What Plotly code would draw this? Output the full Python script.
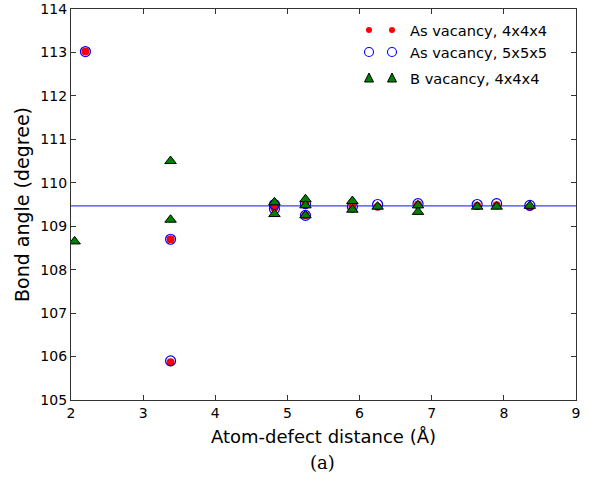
import plotly.graph_objects as go

# As vacancy, 4x4x4
as4_x = [2.20, 3.38, 3.38, 4.82, 4.82, 5.25, 5.25, 5.90, 5.90, 6.25, 6.81, 7.63, 7.90, 8.36]
as4_y = [113.02, 108.70, 105.87, 109.42, 109.50, 109.25, 109.50, 109.40, 109.50, 109.45, 109.50, 109.47, 109.48, 109.45]
# As vacancy, 5x5x5
as5_x = [2.20, 3.38, 3.38, 4.82, 4.82, 5.25, 5.25, 5.90, 6.25, 6.81, 7.63, 7.90, 8.36]
as5_y = [113.02, 108.70, 105.90, 109.50, 109.40, 109.52, 109.25, 109.45, 109.50, 109.52, 109.50, 109.52, 109.48]
# B vacancy, 4x4x4
b4_x = [2.05, 3.38, 3.38, 4.82, 4.82, 5.25, 5.25, 5.25, 5.90, 5.90, 6.25, 6.81, 6.81, 7.63, 7.90, 8.36]
b4_y = [108.65, 110.50, 109.15, 109.55, 109.28, 109.62, 109.48, 109.25, 109.58, 109.38, 109.45, 109.48, 109.33, 109.45, 109.45, 109.47]

ideal_angle = 109.47
x_range = [2, 9]
y_range = [105, 114]
x_ticks = [2, 3, 4, 5, 6, 7, 8, 9]
y_ticks = [105, 106, 107, 108, 109, 110, 111, 112, 113, 114]
legend_labels = ["As vacancy, 4x4x4", "As vacancy, 5x5x5", "B vacancy, 4x4x4"]

W, H = 595, 488
ML, MR, MT, MB = 71, 19, 9, 88
PW, PH = W - ML - MR, H - MT - MB

fig = go.Figure()
fig.add_trace(go.Scatter(x=x_range, y=[ideal_angle, ideal_angle], mode="lines",
                         line=dict(color="#3f3fff", width=1.2), showlegend=False, hoverinfo="skip"))
fig.add_trace(go.Scatter(x=as4_x, y=as4_y, mode="markers", name=legend_labels[0],
                         marker=dict(symbol="circle", size=8, color="red", line=dict(width=0))))
fig.add_trace(go.Scatter(x=as5_x, y=as5_y, mode="markers", name=legend_labels[1],
                         marker=dict(symbol="circle-open", size=10, color="blue", line=dict(width=1.2))))
fig.add_trace(go.Scatter(x=b4_x, y=b4_y, mode="markers", name=legend_labels[2],
                         marker=dict(symbol="triangle-up", size=10, color="green", line=dict(width=1, color="black"))))

axis_common = dict(showgrid=False, zeroline=False, ticks="inside", ticklen=5, tickwidth=1,
                   tickcolor="#333", showline=True, linecolor="#333", linewidth=1.2, mirror="ticks",
                   automargin=False,
                   tickfont=dict(family="DejaVu Sans", size=14, color="black"))

fig.update_layout(
    width=W, height=H,
    margin=dict(l=ML, r=MR, t=MT, b=MB),
    paper_bgcolor="white", plot_bgcolor="white",
    showlegend=False,
    xaxis=dict(range=x_range, tickvals=x_ticks, ticktext=[str(t) for t in x_ticks],
               title=dict(text="Atom-defect distance (Å)", font=dict(family="DejaVu Sans", size=18, color="black"), standoff=10),
               **axis_common),
    yaxis=dict(range=y_range, tickvals=y_ticks, ticktext=[str(t) for t in y_ticks],
               title=dict(text="Bond angle (degree)", font=dict(family="DejaVu Sans", size=19, color="black"), standoff=5),
               **axis_common),
)

def fx(p):
    return (p - ML) / PW
def fy(p):
    return (H - MB - p) / PH

rows = [30, 52, 78]
mx = [369, 392]
shapes = []
for cx in mx:
    r = 3
    shapes.append(dict(type="circle", xref="paper", yref="paper",
                       x0=fx(cx - r), x1=fx(cx + r), y0=fy(rows[0] + r), y1=fy(rows[0] - r),
                       fillcolor="red", line=dict(width=0)))
    r = 4.5
    shapes.append(dict(type="circle", xref="paper", yref="paper",
                       x0=fx(cx - r), x1=fx(cx + r), y0=fy(rows[1] + r), y1=fy(rows[1] - r),
                       fillcolor="rgba(0,0,0,0)", line=dict(width=1.1, color="blue")))
    cy = rows[2]
    path = f"M {fx(cx-4.5)} {fy(cy+4)} L {fx(cx+4.5)} {fy(cy+4)} L {fx(cx)} {fy(cy-5)} Z"
    shapes.append(dict(type="path", xref="paper", yref="paper", path=path,
                       fillcolor="green", line=dict(width=1, color="black")))
fig.update_layout(shapes=shapes)

annotations = []
for lab, ry in zip(legend_labels, rows):
    annotations.append(dict(text=lab, xref="paper", yref="paper",
                            x=fx(408), y=fy(ry),
                            xanchor="left", yanchor="middle", showarrow=False,
                            font=dict(family="DejaVu Sans", size=14.6, color="black")))
annotations.append(dict(text="(a)", xref="paper", yref="paper",
                        x=fx(322), y=fy(462),
                        xanchor="center", yanchor="middle", showarrow=False,
                        font=dict(family="DejaVu Serif", size=18, color="black")))
fig.update_layout(annotations=annotations)

fig.write_html("out.html")
